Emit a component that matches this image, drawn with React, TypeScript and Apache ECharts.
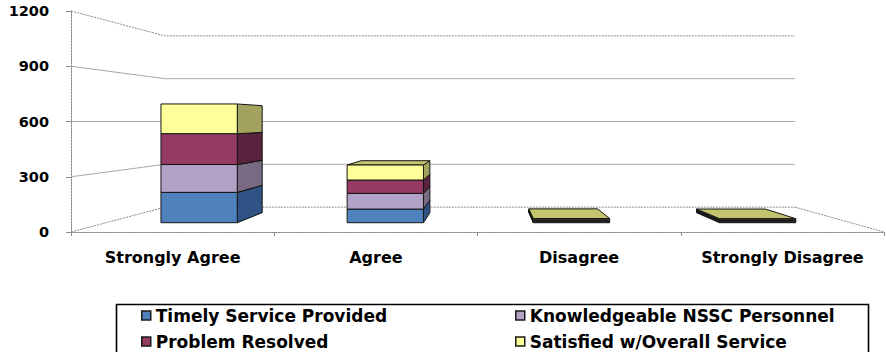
import React, { useEffect, useRef } from "react";
import * as echarts from "echarts";

const categories = ["Strongly Agree", "Agree", "Disagree", "Strongly Disagree"];
const timelyService = [180, 81, 6, 6];
const knowledgeablePersonnel = [165, 93, 6, 6];
const problemResolved = [183, 79, 6, 6];
const satisfiedOverall = [176, 89, 7, 6];
const seriesNames = [
  "Timely Service Provided",
  "Knowledgeable NSSC Personnel",
  "Problem Resolved",
  "Satisfied w/Overall Service",
];
const valueTicks = [0, 300, 600, 900, 1200];

const FONT = '"DejaVu Sans", Verdana, sans-serif';

// front / right-or-left side / top face shades per series
const faceColors = [
  { front: "#4F81BD", side: "#2E5384", top: "#6E97CB" },
  { front: "#B3A2C7", side: "#776A82", top: "#C6B8D6" },
  { front: "#953B63", side: "#5C233F", top: "#A8547A" },
  { front: "#FFFF99", side: "#A3A35F", top: "#C4C46F" },
];

// one-point perspective: depth factors scale points toward the vanishing point
const VIEW = {
  horizonValue: 600,
  vanishX: 0.513,
  wallDepth: 0.775,
  barFront: 0.916,
  barBack: 0.825,
  barWidth: 0.41,
};

function frame(api: any) {
  const band = api.size([1, 0])[0];
  const origin = api.coord([0, 0]);
  const left = origin[0] - band / 2;
  const right = left + band * categories.length;
  const horizonY = api.coord([0, VIEW.horizonValue])[1];
  const vx = left + (right - left) * VIEW.vanishX;
  const project = (x: number, y: number, s: number) => [
    vx + (x - vx) * s,
    horizonY + (y - horizonY) * s,
  ];
  return { band, left, right, horizonY, vx, project };
}

const renderWall = (_params: any, api: any) => {
  const v = api.value(1);
  const { left, right, project } = frame(api);
  const y = api.coord([0, v])[1];
  const yFloor = api.coord([0, 0])[1];
  const backL = project(left, y, VIEW.wallDepth);
  const backR = project(right, y, VIEW.wallDepth);
  const edge = v === valueTicks[0] || v === valueTicks[valueTicks.length - 1];
  const style: any = {
    stroke: edge ? "#8a8a8a" : "#a8a8a8",
    lineWidth: 1,
    fill: "none",
    lineDash: edge ? [2, 1] : null,
  };
  const children: any[] = [
    { type: "polyline", shape: { points: [[left, y], backL, backR] }, style },
  ];
  if (v === valueTicks[0]) {
    children.push({
      type: "line",
      shape: { x1: backR[0], y1: backR[1], x2: right, y2: yFloor },
      style,
    });
  }
  return { type: "group", children };
};

const makeBarRenderer = (k: number) => (_params: any, api: any) => {
  const cat = api.value(0);
  const base = api.value(1);
  const top = api.value(2);
  if (!(top > base)) return null;
  const { band, horizonY, vx, project } = frame(api);
  const cx = api.coord([cat, 0])[0];
  const half = (band * VIEW.barWidth) / 2;
  const xl = cx - half;
  const xr = cx + half;
  const yb = api.coord([cat, base])[1];
  const yt = api.coord([cat, top])[1];
  const F = (x: number, y: number) => project(x, y, VIEW.barFront);
  const B = (x: number, y: number) => project(x, y, VIEW.barBack);
  const c = faceColors[k];
  const edge = { stroke: "#151515", lineWidth: 1, lineJoin: "round" };
  const children: any[] = [];
  const sideX = xr < vx ? xr : xl > vx ? xl : null;
  if (sideX !== null) {
    children.push({
      type: "polygon",
      shape: { points: [F(sideX, yb), B(sideX, yb), B(sideX, yt), F(sideX, yt)] },
      style: { ...edge, fill: c.side },
    });
  }
  if (yt > horizonY) {
    children.push({
      type: "polygon",
      shape: { points: [F(xl, yt), F(xr, yt), B(xr, yt), B(xl, yt)] },
      style: { ...edge, fill: c.top },
    });
  }
  children.push({
    type: "polygon",
    shape: { points: [F(xl, yb), F(xr, yb), F(xr, yt), F(xl, yt)] },
    style: { ...edge, fill: c.front },
  });
  return { type: "group", children };
};

export default function App() {
  const ref = useRef<HTMLDivElement>(null);

  useEffect(() => {
    document.body.style.margin = "0";
    if (!ref.current) return;
    const chart = echarts.init(ref.current, undefined, { renderer: "svg" });

    const stacks = [timelyService, knowledgeablePersonnel, problemResolved, satisfiedOverall];
    const running = categories.map(() => 0);
    const barSeries = stacks.map((values, k) => {
      const data = values.map((v, i) => {
        const base = running[i];
        running[i] += v;
        return [i, base, base + v];
      });
      return {
        type: "custom",
        name: seriesNames[k],
        coordinateSystem: "cartesian2d",
        renderItem: makeBarRenderer(k),
        encode: { x: 0, y: 2 },
        itemStyle: { color: faceColors[k].front },
        data,
        z: 3,
        silent: true,
      };
    });

    const legendText = {
      fontFamily: FONT,
      fontWeight: "bold",
      fontSize: 17,
      color: "#000",
      lineHeight: 16,
    };
    const legendCommon = {
      orient: "vertical",
      top: 307,
      height: 60,
      padding: 0,
      icon: "rect",
      itemWidth: 9,
      itemHeight: 9,
      itemGap: 9,
      selectedMode: false,
      itemStyle: { borderColor: "#1a1a1a", borderWidth: 1.5 },
      textStyle: legendText,
    };

    chart.setOption({
      animation: false,
      backgroundColor: "#ffffff",
      grid: { left: 71, right: 2, top: 11, bottom: 120, containLabel: false },
      xAxis: {
        type: "category",
        data: categories,
        axisLine: { show: true, lineStyle: { color: "#8a8a8a", width: 1, type: [2, 1] } },
        axisTick: { show: true, length: 4, lineStyle: { color: "#8a8a8a" } },
        axisLabel: {
          interval: 0,
          margin: 17,
          fontFamily: FONT,
          fontWeight: "bold",
          fontSize: 16,
          color: "#000",
        },
        splitLine: { show: false },
      },
      yAxis: {
        type: "value",
        min: 0,
        max: 1200,
        interval: 300,
        axisLine: { show: true, lineStyle: { color: "#8a8a8a", width: 1, type: [2, 1] } },
        axisTick: { show: true, length: 5, lineStyle: { color: "#8a8a8a" } },
        axisLabel: {
          margin: 22,
          formatter: (v: number) => String(v),
          fontFamily: FONT,
          fontWeight: "bold",
          fontSize: 14.5,
          color: "#000",
        },
        splitLine: { show: false },
      },
      legend: [
        { ...legendCommon, left: 141, data: [seriesNames[0], seriesNames[2]] },
        { ...legendCommon, left: 515, data: [seriesNames[1], seriesNames[3]] },
      ],
      graphic: [
        {
          type: "rect",
          left: 114,
          top: 302,
          shape: { width: 752, height: 70 },
          style: { fill: "none", stroke: "#000", lineWidth: 1.6 },
          silent: true,
        },
      ],
      series: [
        {
          type: "custom",
          name: "walls",
          coordinateSystem: "cartesian2d",
          renderItem: renderWall,
          encode: { x: 0, y: 1 },
          data: valueTicks.map((v) => [0, v]),
          z: 1,
          silent: true,
        },
        ...barSeries,
      ],
    });

    return () => chart.dispose();
  }, []);

  return <div ref={ref} style={{ width: 886, height: 352 }} />;
}
